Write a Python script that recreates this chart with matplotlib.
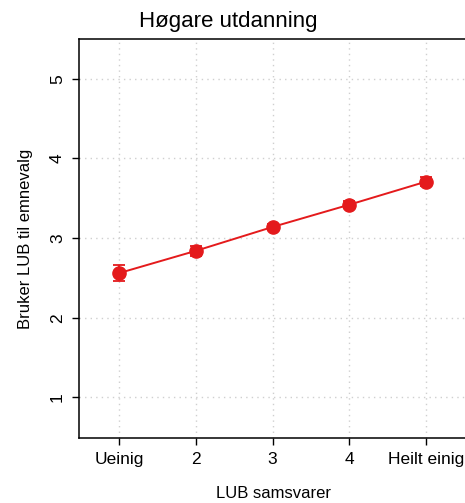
import numpy as np
import matplotlib
matplotlib.use("Agg")
import matplotlib.pyplot as plt

plt.rcParams['font.family'] = ['Liberation Sans', 'DejaVu Sans']

# data
categories = ["Ueinig", "2", "3", "4", "Heilt einig"]
means = [2.56, 2.84, 3.14, 3.42, 3.71]
errors = [0.10, 0.06, 0.04, 0.04, 0.06]
y_ticks = [1, 2, 3, 4, 5]

red = "#E41A1C"

fig = plt.figure(figsize=(4.65, 5.03), dpi=100)
# right edge of the plot box runs off the picture, as in the reference
ax = fig.add_axes([79 / 465, 65 / 503, 388 / 465, 399 / 503])

x = np.arange(1, len(categories) + 1)
ax.errorbar(x, means, yerr=errors, color=red, lw=1.4, marker="o",
            markersize=9.5, capsize=4, capthick=1.3, elinewidth=1.3, zorder=3)

ax.set_xlim(0.48, 5.53)
ax.set_ylim(0.49, 5.5)
ax.set_xticks(x)
ax.set_xticklabels(categories)
ax.set_yticks(y_ticks)
ax.set_yticklabels([str(v) for v in y_ticks], rotation=90, va="center")

# dotted light grey grid like R's grid()
ax.grid(True, color="#cfcfcf", linestyle=(0, (1, 3)), linewidth=1)
ax.set_axisbelow(True)
for s in ax.spines.values():
    s.set_linewidth(1.1)
    s.set_color("black")

ax.tick_params(axis="both", length=5, width=1, labelsize=12.5, pad=5)
ax.set_xlabel("LUB samsvarer", fontsize=12, labelpad=14)
ax.set_ylabel("Bruker LUB til emnevalg", fontsize=12, labelpad=12)

fig.text(228 / 465, 1 - 22 / 503, "Høgare utdanning", fontsize=16,
         ha="center", va="center")

fig.savefig("out.png", dpi=100)
